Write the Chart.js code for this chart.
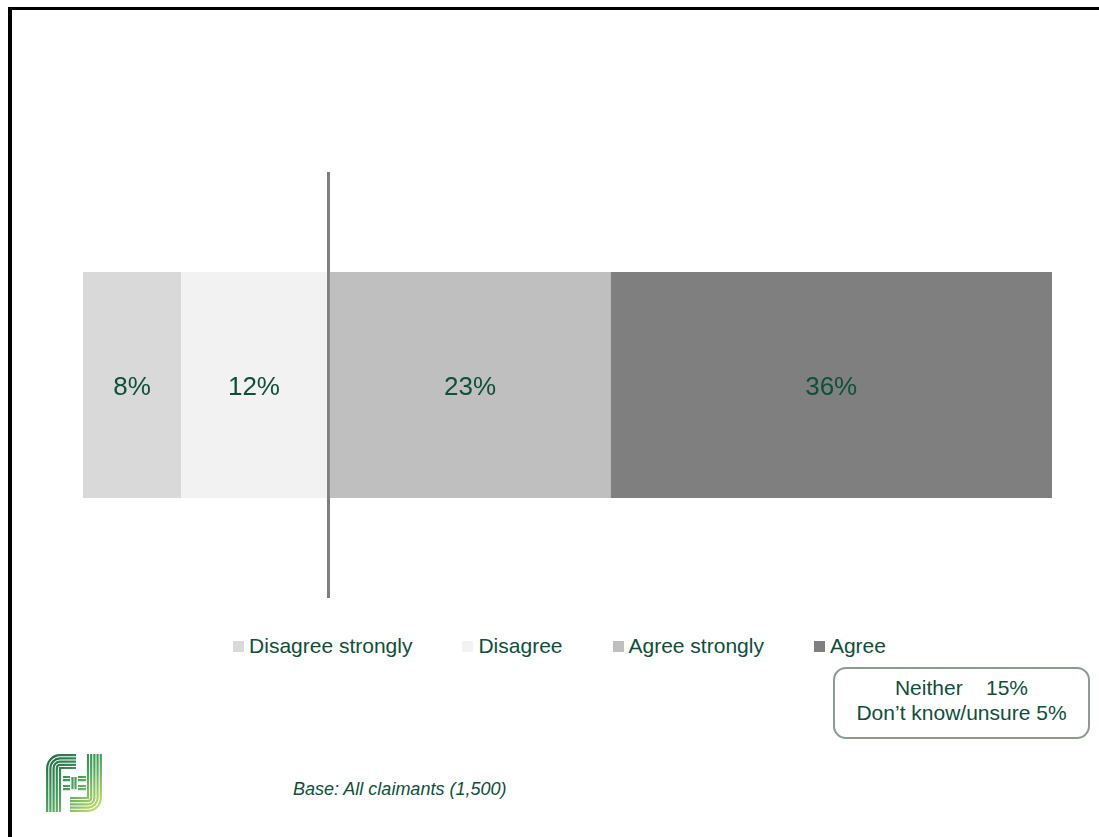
<!DOCTYPE html>
<html>
<head>
<meta charset="utf-8">
<script src="https://cdn.jsdelivr.net/npm/chart.js@4/dist/chart.umd.min.js"></script>
<style>
  body {
    margin: 0;
    width: 1099px;
    height: 837px;
    overflow: hidden;
    background: #fff;
    position: relative;
    font-family: "Liberation Sans", Arial, sans-serif;
    color: #0e5038;
  }
  .frame {
    position: absolute;
    left: 8px;
    top: 7px;
    width: 1200px;
    height: 900px;
    border-top: 3px solid #000;
    border-left: 4px solid #000;
  }
  #chart-box {
    position: absolute;
    left: 83px;
    top: 172px;
    width: 969px;
    height: 426px;
  }
  #legend {
    position: absolute;
    left: 0;
    width: 1119px;
    top: 635px;
    height: 22px;
    display: flex;
    justify-content: center;
    gap: 50px;
    font-size: 21px;
    line-height: 22px;
  }
  #legend .item { display: flex; align-items: center; white-space: nowrap; }
  #legend i { display: inline-block; width: 11px; height: 11px; margin-right: 5px; }
  #note {
    position: absolute;
    left: 833px;
    top: 667px;
    width: 257px;
    height: 72px;
    box-sizing: border-box;
    border: 2px solid #8c9b90;
    border-radius: 13px;
    padding-top: 6px;
    text-align: center;
    font-size: 21px;
    line-height: 25px;
    white-space: pre;
  }
  #base {
    position: absolute;
    left: 293px;
    top: 778px;
    font-size: 18px;
    font-style: italic;
    line-height: 22px;
  }
  #logo { position: absolute; left: 46px; top: 754px; }
</style>
</head>
<body>
<div class="frame"></div>
<div id="chart-box"><canvas id="bar-chart"></canvas></div>
<div id="legend"></div>
<div id="note"></div>
<div id="base"></div>
<svg id="logo" width="56" height="58" viewBox="0 0 56 58">
  <defs>
    <linearGradient id="logoGrad" gradientUnits="userSpaceOnUse" x1="0" y1="0" x2="56" y2="58">
      <stop offset="0" stop-color="#1c6844"/>
      <stop offset="0.5" stop-color="#46a05c"/>
      <stop offset="1" stop-color="#d8ea6c"/>
    </linearGradient>
  </defs>
  <g id="logo-lines" fill="none" stroke="url(#logoGrad)" stroke-width="2.2"></g>
</svg>

<script>
const categories = ["Disagree strongly", "Disagree", "Agree strongly", "Agree"];
const shares = [8, 12, 23, 36];
const sides = [-1, -1, 1, 1];
// stacking order: "Disagree" sits against the zero line, "Disagree strongly" outside it
const stackOrder = [1, 0, 2, 3];
const colours = ["#d9d9d9", "#f2f2f2", "#bfbfbf", "#7f7f7f"];
const otherLabels = ["Neither", "Don\u2019t know/unsure"];
const otherShares = [15, 5];
const baseText = "Base: All claimants (1,500)";
const textGreen = "#0e5038";

const datasets = categories.map((label, i) => ({
  label,
  data: [sides[i] * shares[i]],
  backgroundColor: colours[i],
  order: stackOrder[i],
  borderWidth: 0,
  barPercentage: 1,
  categoryPercentage: 0.53,
}));

const segmentLabels = {
  id: "segmentLabels",
  afterDatasetsDraw(chart) {
    const { ctx } = chart;
    ctx.save();
    ctx.font = "26px 'Liberation Sans', Arial, sans-serif";
    ctx.fillStyle = textGreen;
    ctx.textAlign = "center";
    ctx.textBaseline = "middle";
    chart.data.datasets.forEach((ds, i) => {
      chart.getDatasetMeta(i).data.forEach((bar, j) => {
        const { x, y } = bar.getCenterPoint();
        ctx.fillText(Math.abs(ds.data[j]) + "%", x, y + 3);
      });
    });
    ctx.restore();
  },
};

new Chart(document.getElementById("bar-chart"), {
  type: "bar",
  data: { labels: [""], datasets },
  options: {
    indexAxis: "y",
    responsive: true,
    maintainAspectRatio: false,
    animation: false,
    layout: { padding: 0 },
    plugins: { legend: { display: false }, tooltip: { enabled: false } },
    scales: {
      x: {
        type: "linear",
        stacked: true,
        min: -20,
        max: 59,
        z: 1,
        ticks: { display: false, stepSize: 10 },
        border: { display: false },
        grid: {
          drawTicks: false,
          lineWidth: 3,
          color: (c) => (c.tick && c.tick.value === 0 ? "#7f7f7f" : "rgba(0,0,0,0)"),
        },
      },
      y: { stacked: true, display: false },
    },
  },
  plugins: [segmentLabels],
});

document.getElementById("legend").innerHTML = categories
  .map((c, i) => `<span class="item"><i style="background:${colours[i]}"></i>${c}</span>`)
  .join("");

document.getElementById("note").textContent = otherLabels
  .map((l, i) => l + (i === 0 ? "    " : " ") + otherShares[i] + "%")
  .join("\n");

document.getElementById("base").textContent = baseText;

// logo: two nested stripe groups plus a crossbar
const logo = document.getElementById("logo-lines");
let paths = "";
for (let i = 0; i < 5; i++) {
  const o = 1.2 + i * 3.2, r = Math.max(13 - i * 3.2, 0.5);
  paths += `<path d="M${o} 58 L${o} 14 A${r} ${r} 0 0 1 14 ${o} L30 ${o}"/>`;
  const x = 54.8 - i * 3.2, y = 56.8 - i * 3.2;
  paths += `<path d="M${x} 0 L${x} 44 A${r} ${r} 0 0 1 42 ${y} L24 ${y}"/>`;
}
[23, 26.2, 32, 35.2].forEach((y) => {
  paths += `<path d="M17 ${y} L24 ${y} M32 ${y} L40 ${y}"/>`;
});
paths += `<path d="M26.5 23 L26.5 35.2 M29.5 23 L29.5 35.2"/>`;
logo.innerHTML = paths;
</script>
</body>
</html>
